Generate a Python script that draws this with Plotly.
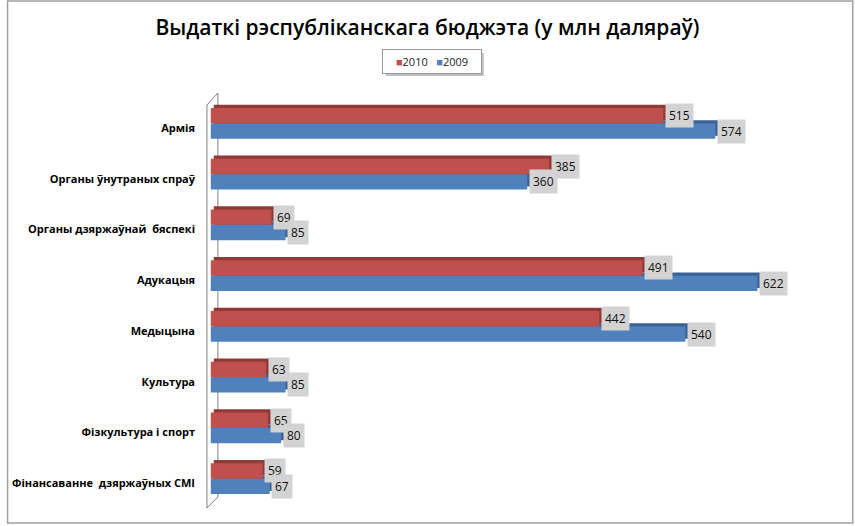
import plotly.graph_objects as go

categories = ["Армія", "Органы ўнутраных спраў", "Органы дзяржаўнай  бяспекі", "Адукацыя",
              "Медыцына", "Культура", "Фізкультура і спорт", "Фінансаванне  дзяржаўных СМІ"]
values_2010 = [515, 385, 69, 491, 442, 63, 65, 59]
values_2009 = [574, 360, 85, 622, 540, 85, 80, 67]
series_names = ["2010", "2009"]

W, H = 855, 526
ML, MR, MT, MB = 197, 29, 98, 22
PW, PH = W - ML - MR, H - MT - MB
XMIN, XMAX = -10, 700

def px2x(px):
    return (px - ML) / PW

def py2y(py):
    return (H - MB - py) / PH

RED, RED_D = "#C0504D", "#8E3A38"
BLUE, BLUE_D = "#4F81BD", "#3A6296"
BW = 0.305          # bar thickness (category units)
DX = 3.4            # 3D depth in x data units
DY = 0.06           # 3D depth in category units

idx = list(range(len(categories)))
y_red = [i - BW / 2 for i in idx]
y_blue = [i + BW / 2 for i in idx]

fig = go.Figure()
fig.add_trace(go.Bar(y=[v - DY for v in y_blue], x=values_2009, base=DX, orientation="h",
                     width=BW, marker=dict(color=BLUE_D, line=dict(width=0)),
                     showlegend=False, hoverinfo="skip"))
fig.add_trace(go.Bar(y=y_blue, x=values_2009, orientation="h", width=BW, name=series_names[1],
                     marker=dict(color=BLUE, line=dict(width=0)), showlegend=False))
fig.add_trace(go.Bar(y=[v - DY for v in y_red], x=values_2010, base=DX, orientation="h",
                     width=BW, marker=dict(color=RED_D, line=dict(width=0)),
                     showlegend=False, hoverinfo="skip"))
fig.add_trace(go.Bar(y=y_red, x=values_2010, orientation="h", width=BW, name=series_names[0],
                     marker=dict(color=RED, line=dict(width=0)), showlegend=False))

annotations = []
for yy, vals in ((y_red, values_2010), (y_blue, values_2009)):
    for y, v in zip(yy, vals):
        annotations.append(dict(x=v + DX - 1.5, y=y, xref="x", yref="y", text=str(v),
                                showarrow=False, xanchor="left", yanchor="middle",
                                bgcolor="#D3D3D3", borderpad=3,
                                font=dict(family="Open Sans", size=12, color="#111")))

annotations.append(dict(
    x=px2x(428.5), y=py2y(61.5), xref="paper", yref="paper", showarrow=False,
    xanchor="center", yanchor="middle",
    text="<span style='color:%s'>■</span>%s   <span style='color:%s'>■</span>%s" % (RED, series_names[0], BLUE, series_names[1]),
    font=dict(family="Open Sans", size=11, color="#222"),
    bgcolor="white", bordercolor="#9A9A9A", borderwidth=1, borderpad=4, width=90))

shapes = [
    dict(type="rect", xref="paper", yref="paper", x0=px2x(1), x1=px2x(853), y0=py2y(523), y1=py2y(1),
         line=dict(color="#A0A0A0", width=1.5), layer="below"),
    dict(type="rect", xref="paper", yref="paper", x0=px2x(382), x1=px2x(481), y0=py2y(76), y1=py2y(53),
         line=dict(width=0), fillcolor="rgba(0,0,0,0.25)", layer="below"),
    dict(type="line", xref="paper", yref="paper", x0=px2x(202), x1=px2x(202), y0=py2y(105), y1=py2y(508),
         line=dict(color="#808080", width=1)),
    dict(type="line", xref="paper", yref="paper", x0=px2x(213), x1=px2x(213), y0=py2y(93), y1=py2y(497),
         line=dict(color="#808080", width=1), layer="below"),
    dict(type="line", xref="paper", yref="paper", x0=px2x(202), x1=px2x(213), y0=py2y(105), y1=py2y(93),
         line=dict(color="#808080", width=1)),
    dict(type="line", xref="paper", yref="paper", x0=px2x(202), x1=px2x(213), y0=py2y(508), y1=py2y(497),
         line=dict(color="#808080", width=1)),
]

fig.update_layout(
    width=W, height=H,
    margin=dict(l=ML, r=MR, t=MT, b=MB),
    paper_bgcolor="white", plot_bgcolor="white",
    barmode="overlay",
    title=dict(text="Выдаткі рэспубліканскага бюджэта (у млн даляраў)", x=0.5, xanchor="center",
               y=1 - 28 / H, yanchor="middle", yref="container",
               font=dict(family="Open Sans", size=21, color="#000", weight=600)),
    xaxis=dict(range=[XMIN, XMAX], showgrid=False, zeroline=False, showticklabels=False,
               showline=False, fixedrange=True),
    yaxis=dict(range=[len(categories) - 0.5, -0.5], tickvals=[i + 0.09 for i in idx],
               ticktext=categories, showgrid=False, zeroline=False, showline=False, ticks="",
               ticklabelstandoff=6, fixedrange=True,
               tickfont=dict(family="Open Sans", size=11, color="#000", weight="bold")),
    annotations=annotations,
    shapes=shapes,
    showlegend=False,
)

fig.write_html("out.html", config={"displayModeBar": False},
               post_script="document.body.style.margin='0';document.body.style.overflow='hidden';")
